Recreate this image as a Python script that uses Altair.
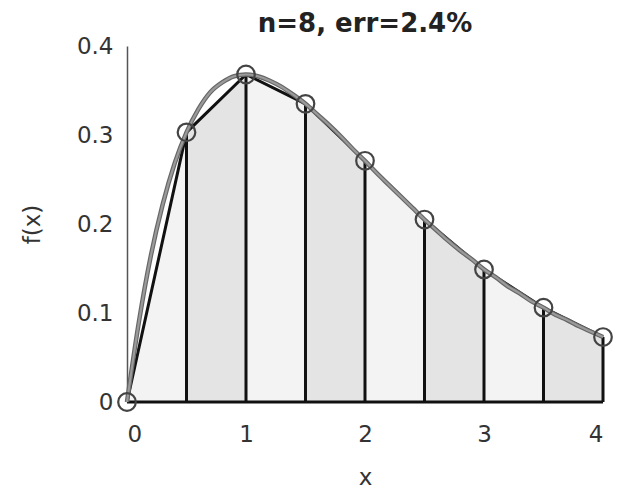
import altair as alt
import pandas as pd

# nodes of the trapezoid rule (n=8)
node_x = [0, 0.5, 1, 1.5, 2, 2.5, 3, 3.5, 4]
node_y = [0, 0.303, 0.368, 0.335, 0.271, 0.205, 0.149, 0.106, 0.073]

# smooth curve
curve_x = [0, 0.1, 0.2, 0.3, 0.4, 0.5, 0.6, 0.7, 0.8, 0.9, 1.0, 1.1, 1.2, 1.3, 1.4,
           1.5, 1.6, 1.7, 1.8, 1.9, 2.0, 2.1, 2.2, 2.3, 2.4, 2.5, 2.6, 2.7, 2.8, 2.9,
           3.0, 3.1, 3.2, 3.3, 3.4, 3.5, 3.6, 3.7, 3.8, 3.9, 4.0]
curve_y = [0, 0.090, 0.164, 0.222, 0.268, 0.303, 0.329, 0.348, 0.359, 0.366, 0.368,
           0.366, 0.361, 0.354, 0.345, 0.335, 0.323, 0.311, 0.298, 0.284, 0.271,
           0.257, 0.244, 0.231, 0.218, 0.205, 0.193, 0.181, 0.170, 0.160, 0.149,
           0.140, 0.130, 0.122, 0.113, 0.106, 0.098, 0.092, 0.085, 0.079, 0.073]

title_text = "n=8, err=2.4%"
y_ticks = [0, 0.1, 0.2, 0.3, 0.4]
x_ticks = [0, 1, 2, 3, 4]

nodes = pd.DataFrame({"x": node_x, "y": node_y})
curve = pd.DataFrame({"x": curve_x, "y": curve_y})

rows = []
for i in range(len(node_x) - 1):
    shade = "a" if i % 2 == 0 else "b"
    rows.append({"seg": i, "shade": shade, "x": node_x[i], "y": node_y[i]})
    rows.append({"seg": i, "shade": shade, "x": node_x[i + 1], "y": node_y[i + 1]})
traps = pd.DataFrame(rows)

xs = alt.Scale(domain=[0, 4], nice=False)
ys = alt.Scale(domain=[0, 0.4], nice=False)

FONT = "DejaVu Sans"
FS = 23

x_axis = alt.Axis(values=x_ticks, title="x", labelFontSize=FS, titleFontSize=FS,
                  labelColor="#333", titleColor="#333", domain=False, ticks=False,
                  grid=False, labelPadding=21, titlePadding=20, titleFont=FONT,
                  labelFont=FONT, titleFontWeight="normal", format="d")
y_axis = alt.Axis(values=y_ticks, title="f(x)", labelFontSize=FS, titleFontSize=FS,
                  labelColor="#333", titleColor="#333", domainColor="#555",
                  domainWidth=1.5, ticks=False, grid=False,
                  labelPadding=14, titlePadding=32, titleFont=FONT, labelFont=FONT,
                  titleFontWeight="normal",
                  labelExpr="datum.value == 0 ? '0' : format(datum.value, '.1f')")

areas = alt.Chart(traps).mark_area(opacity=1).encode(
    x=alt.X("x:Q", scale=xs, axis=x_axis),
    y=alt.Y("y:Q", scale=ys, axis=y_axis, stack=None),
    detail="seg:N",
    color=alt.Color("shade:N", scale=alt.Scale(domain=["a", "b"], range=["#f3f3f3", "#e4e4e4"]), legend=None),
)

verts = alt.Chart(nodes).mark_rule(color="#111", strokeWidth=3).encode(
    x="x:Q", y=alt.Y("y:Q"), y2=alt.datum(0)
)

base_line = alt.Chart(pd.DataFrame({"x": [0], "x2": [4]})).mark_rule(color="#111", strokeWidth=3).encode(
    x="x:Q", x2="x2:Q", y=alt.datum(0)
)

top_line = alt.Chart(nodes).mark_line(color="#111", strokeWidth=3).encode(x="x:Q", y="y:Q")

curve_dark = alt.Chart(curve).mark_line(color="#666", strokeWidth=4.5, interpolate="monotone").encode(x="x:Q", y="y:Q")
curve_light = alt.Chart(curve).mark_line(color="#9a9a9a", strokeWidth=2.2, interpolate="monotone").encode(x="x:Q", y="y:Q")

circles = alt.Chart(nodes).mark_point(shape="circle", size=310, filled=False, color="#444",
                                      strokeWidth=2.2, opacity=1).encode(x="x:Q", y="y:Q")

chart = alt.layer(areas, verts, base_line, top_line, curve_dark, curve_light, circles).properties(
    width=476, height=356,
    autosize=alt.AutoSizeParams(type="none"),
    padding={"left": 127, "top": 46, "right": 25, "bottom": 91},
    title=alt.Title(title_text, fontSize=26, fontWeight="bold", font=FONT, color="#222",
                    offset=-2, anchor="middle"),
).configure_view(strokeWidth=0)

chart.save("out.html", embed_options={"renderer": "svg", "actions": False})
